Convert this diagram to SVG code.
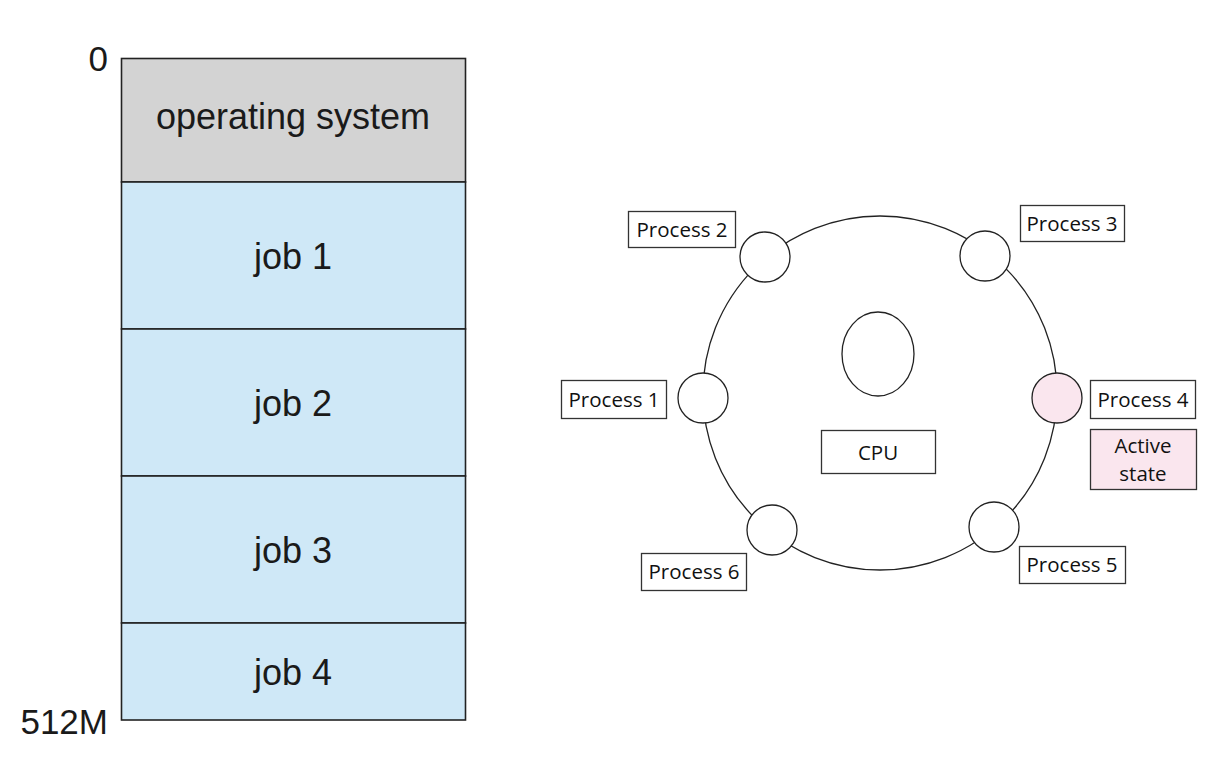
<svg xmlns="http://www.w3.org/2000/svg" width="1224" height="758" viewBox="0 0 1224 758">
<style>
.mem{stroke:#222;stroke-width:1.6}
.os{fill:#d3d3d3}
.job{fill:#cfe8f7}
.big{font-family:"Liberation Sans",Arial,Helvetica,sans-serif;font-size:36px;fill:#1a1a1a;text-anchor:middle}
.addr{font-family:"Liberation Sans",Arial,Helvetica,sans-serif;font-size:35px;fill:#1a1a1a;text-anchor:end}
.lbl{fill:#fff;stroke:#333;stroke-width:1.3}
.pt{font-family:"Open Sans","Noto Sans",sans-serif;font-size:20.5px;fill:#111;text-anchor:middle}
.pc{fill:#fff;stroke:#222;stroke-width:1.3}
.pink{fill:#fae6ee}
</style>
<rect width="1224" height="758" fill="#fff"/>
<g id="memory">
<g id="os"><rect class="mem os" x="121.5" y="58.5" width="344" height="123.5"/><text class="big" x="293" y="129">operating system</text></g>
<g id="job1"><rect class="mem job" x="121.5" y="182" width="344" height="147"/><text class="big" x="293" y="269">job 1</text></g>
<g id="job2"><rect class="mem job" x="121.5" y="329" width="344" height="147"/><text class="big" x="293" y="416">job 2</text></g>
<g id="job3"><rect class="mem job" x="121.5" y="476" width="344" height="147"/><text class="big" x="293" y="563">job 3</text></g>
<g id="job4"><rect class="mem job" x="121.5" y="623" width="344" height="97"/><text class="big" x="293" y="685">job 4</text></g>
<text class="addr" x="108" y="71">0</text>
<text class="addr" x="108" y="734">512M</text>
</g>
<g id="connectors">
<circle cx="880" cy="393" r="177" fill="none" stroke="#222" stroke-width="1.3"/>
</g>
<g id="cpu">
<ellipse class="pc" cx="878" cy="354" rx="36" ry="42"/>
<rect class="lbl" x="821.5" y="430.5" width="114" height="43"/>
<text class="pt" x="878" y="460">CPU</text>
</g>
<g id="p1"><circle class="pc" cx="703" cy="398" r="25"/><rect class="lbl" x="561.5" y="380.5" width="105" height="38"/><text class="pt" x="614" y="407">Process 1</text></g>
<g id="p2"><circle class="pc" cx="765" cy="257" r="25"/><rect class="lbl" x="628.5" y="211.5" width="107" height="36"/><text class="pt" x="682" y="237">Process 2</text></g>
<g id="p3"><circle class="pc" cx="985" cy="256" r="25"/><rect class="lbl" x="1020.5" y="205.5" width="104" height="36"/><text class="pt" x="1072" y="231">Process 3</text></g>
<g id="p4"><circle class="pc pink" cx="1057" cy="398" r="25"/><rect class="lbl" x="1090.5" y="380.5" width="105" height="38"/><text class="pt" x="1143" y="407">Process 4</text></g>
<g id="active"><rect class="lbl pink" x="1090.5" y="429.5" width="106" height="60"/><text class="pt" x="1143" y="453">Active</text><text class="pt" x="1143" y="481">state</text></g>
<g id="p5"><circle class="pc" cx="994" cy="527" r="25"/><rect class="lbl" x="1019.5" y="546.5" width="106" height="37"/><text class="pt" x="1072" y="572">Process 5</text></g>
<g id="p6"><circle class="pc" cx="772" cy="530" r="25"/><rect class="lbl" x="641.5" y="553.5" width="105" height="37"/><text class="pt" x="694" y="579">Process 6</text></g>
</svg>
